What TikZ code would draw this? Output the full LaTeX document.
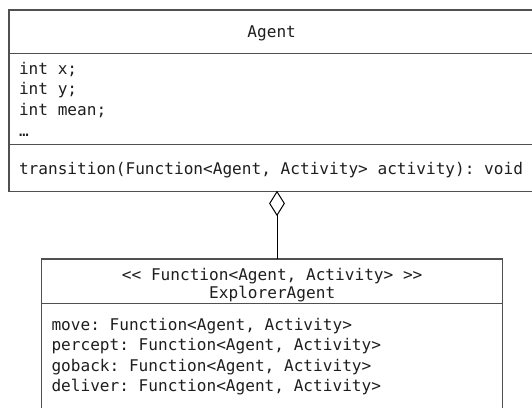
\documentclass[tikz,border=0pt]{standalone}
\usepackage{fontspec}
\setmonofont{DejaVu Sans Mono}
\usetikzlibrary{shapes.geometric}
\definecolor{boxline}{HTML}{505050}
\definecolor{txtcol}{HTML}{1E1E1E}
\begin{document}
\begin{tikzpicture}[x=1pt,y={(0pt,-1pt)},
  umltext/.style={font=\ttfamily\fontsize{16.1}{20.6}\selectfont, text=txtcol, inner sep=0pt, outer sep=0pt},
  lefttext/.style={umltext, anchor=base west},
  centertext/.style={umltext, anchor=base},
  boxstroke/.style={draw=boxline, line width=1.4pt},
  aggr/.style={diamond, draw=black, fill=white, line width=1pt, minimum width=14.6pt, minimum height=23.5pt, inner sep=0pt, outer sep=0pt},
  connector/.style={draw=black, line width=1pt}]
\fill[white] (0,0) rectangle (532,408);
\useasboundingbox (0,0) rectangle (532,408);

% Agent class
\draw[boxstroke] (532,10) -- (9,10) -- (9,191.7) -- (532,191.7);
\draw[boxstroke] (9,53.5) -- (532,53.5);
\draw[boxstroke] (9,144.5) -- (532,144.5);
\node[centertext] (agentname) at (271.7,37.7) {Agent};
\node[lefttext] (attx) at (19,74) {int x;};
\node[lefttext] (atty) at (19,94.7) {int y;};
\node[lefttext] (attmean) at (19,115.4) {int mean;};
\node[lefttext] (attdots) at (19,136.1) {…};
\node[lefttext] (method) at (19,174) {transition(Function<Agent, Activity> activity): void};

% ExplorerAgent class
\draw[boxstroke] (41.7,408) -- (41.7,259) -- (502.7,259) -- (502.7,408);
\draw[boxstroke] (41.7,303.3) -- (502.7,303.3);
\node[centertext] (stereo) at (272.2,280.5) {<< Function<Agent, Activity> >>};
\node[centertext] (explname) at (272.2,298.5) {ExplorerAgent};
\node[lefttext] (move) at (51.5,330) {move: Function<Agent, Activity>};
\node[lefttext] (percept) at (51.5,350.5) {percept: Function<Agent, Activity>};
\node[lefttext] (goback) at (51.5,371) {goback: Function<Agent, Activity>};
\node[lefttext] (deliver) at (51.5,391.5) {deliver: Function<Agent, Activity>};

% aggregation connector
\coordinate (agentbottom) at (277,191.7);
\coordinate (explorertop) at (277,259);
\node[aggr, anchor=north] (dia) at (agentbottom) {};
\draw[connector] (dia.south) -- (explorertop);
\end{tikzpicture}
\end{document}
